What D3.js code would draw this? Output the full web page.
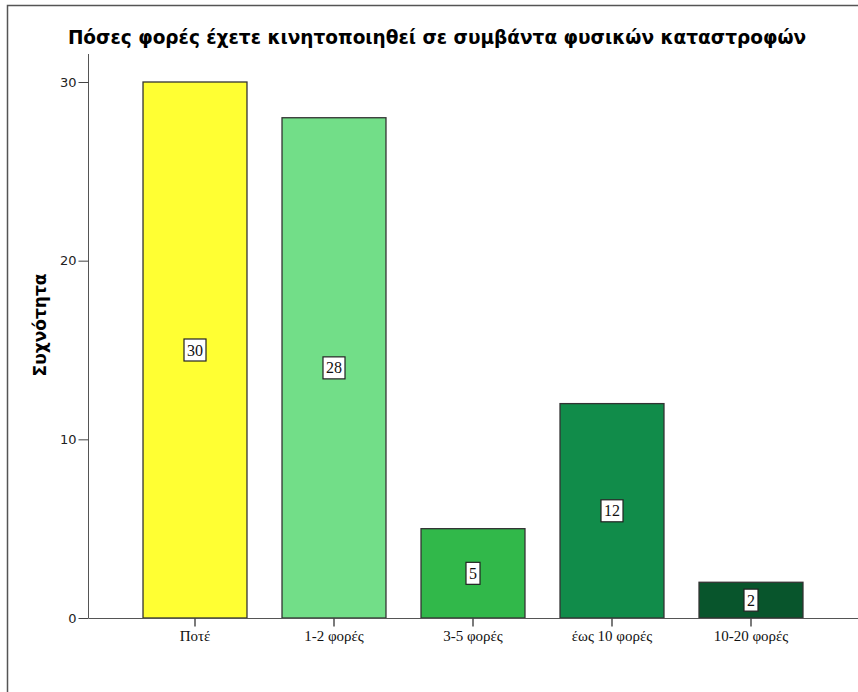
<!DOCTYPE html>
<html>
<head>
<meta charset="utf-8">
<script src="https://cdn.jsdelivr.net/npm/d3@7"></script>
<style>
  body { margin: 0; background: #fff; }
</style>
</head>
<body>
<div id="chart"></div>
<script>
const categories = ["Ποτέ", "1-2 φορές", "3-5 φορές", "έως 10 φορές", "10-20 φορές"];
const counts = [30, 28, 5, 12, 2];
const barColors = ["#ffff33", "#72de88", "#31b84a", "#118c4a", "#08552c"];
const yTicks = [0, 10, 20, 30];
const titleText = "Πόσες φορές έχετε κινητοποιηθεί σε συμβάντα φυσικών καταστροφών";
const yLabel = "Συχνότητα";

const width = 858, height = 692;

const svg = d3.select("#chart")
  .append("svg")
  .attr("width", width)
  .attr("height", height);

// outer frame (only top and left edges visible)
svg.append("path")
  .attr("d", `M7.5,${height} V5.5 H${width}`)
  .attr("fill", "none")
  .attr("stroke", "#555")
  .attr("stroke-width", 1.5);

// title
svg.append("text")
  .attr("x", 437)
  .attr("y", 44)
  .attr("text-anchor", "middle")
  .attr("font-family", "DejaVu Sans, sans-serif")
  .attr("font-weight", "bold")
  .attr("font-size", "18.5px")
  .text(titleText);

const x = d3.scaleBand()
  .domain(categories)
  .range([125.5, 820.5])
  .paddingInner(0.252)
  .paddingOuter(0.126);

const y = d3.scaleLinear()
  .domain([0, 30])
  .range([618, 82]);

// y axis
const yAxis = svg.append("g")
  .attr("transform", "translate(88.5,0)")
  .call(d3.axisLeft(y).tickValues(yTicks).tickSize(10).tickPadding(2));
yAxis.select(".domain").attr("d", `M0,54 V${y(0)}`).attr("stroke", "#555");
yAxis.selectAll(".tick line").attr("stroke", "#444");
yAxis.selectAll("text")
  .attr("font-family", "DejaVu Sans, sans-serif")
  .attr("font-size", "13px")
  .attr("fill", "#222");

// y label
svg.append("text")
  .attr("transform", "translate(46,325) rotate(-90)")
  .attr("text-anchor", "middle")
  .attr("font-family", "DejaVu Sans, sans-serif")
  .attr("font-weight", "bold")
  .attr("font-size", "17px")
  .text(yLabel);

// bars
svg.selectAll("rect.bar")
  .data(categories)
  .join("rect")
  .attr("class", "bar")
  .attr("x", d => x(d))
  .attr("y", (d, i) => y(counts[i]))
  .attr("width", x.bandwidth())
  .attr("height", (d, i) => y(0) - y(counts[i]))
  .attr("fill", (d, i) => barColors[i])
  .attr("stroke", "#333")
  .attr("stroke-width", 1.3);

// x axis
const xAxis = svg.append("g")
  .attr("transform", `translate(0,${y(0) + 0.5})`)
  .call(d3.axisBottom(x).tickSize(8).tickPadding(4));
xAxis.select(".domain").attr("d", `M88.5,0 H${width}`).attr("stroke", "#555");
xAxis.selectAll(".tick line").attr("stroke", "#333").attr("stroke-width", 1.3);
xAxis.selectAll("text")
  .attr("font-family", "Liberation Serif, serif")
  .attr("font-size", "15px")
  .attr("fill", "#111");

// value labels in boxes
const lbl = svg.selectAll("g.vlabel")
  .data(categories)
  .join("g")
  .attr("class", "vlabel")
  .attr("transform", (d, i) => `translate(${x(d) + x.bandwidth() / 2},${y(counts[i] / 2)})`);

lbl.append("text")
  .attr("text-anchor", "middle")
  .attr("dy", "0.35em")
  .attr("font-family", "Liberation Serif, serif")
  .attr("font-size", "16px")
  .attr("fill", "#111")
  .text((d, i) => counts[i])
  .each(function () {
    const b = this.getBBox();
    d3.select(this.parentNode).insert("rect", "text")
      .attr("x", b.x - 3)
      .attr("y", -11)
      .attr("width", b.width + 6)
      .attr("height", 22)
      .attr("fill", "#fff")
      .attr("stroke", "#222")
      .attr("stroke-width", 1.2);
  });
</script>
</body>
</html>
